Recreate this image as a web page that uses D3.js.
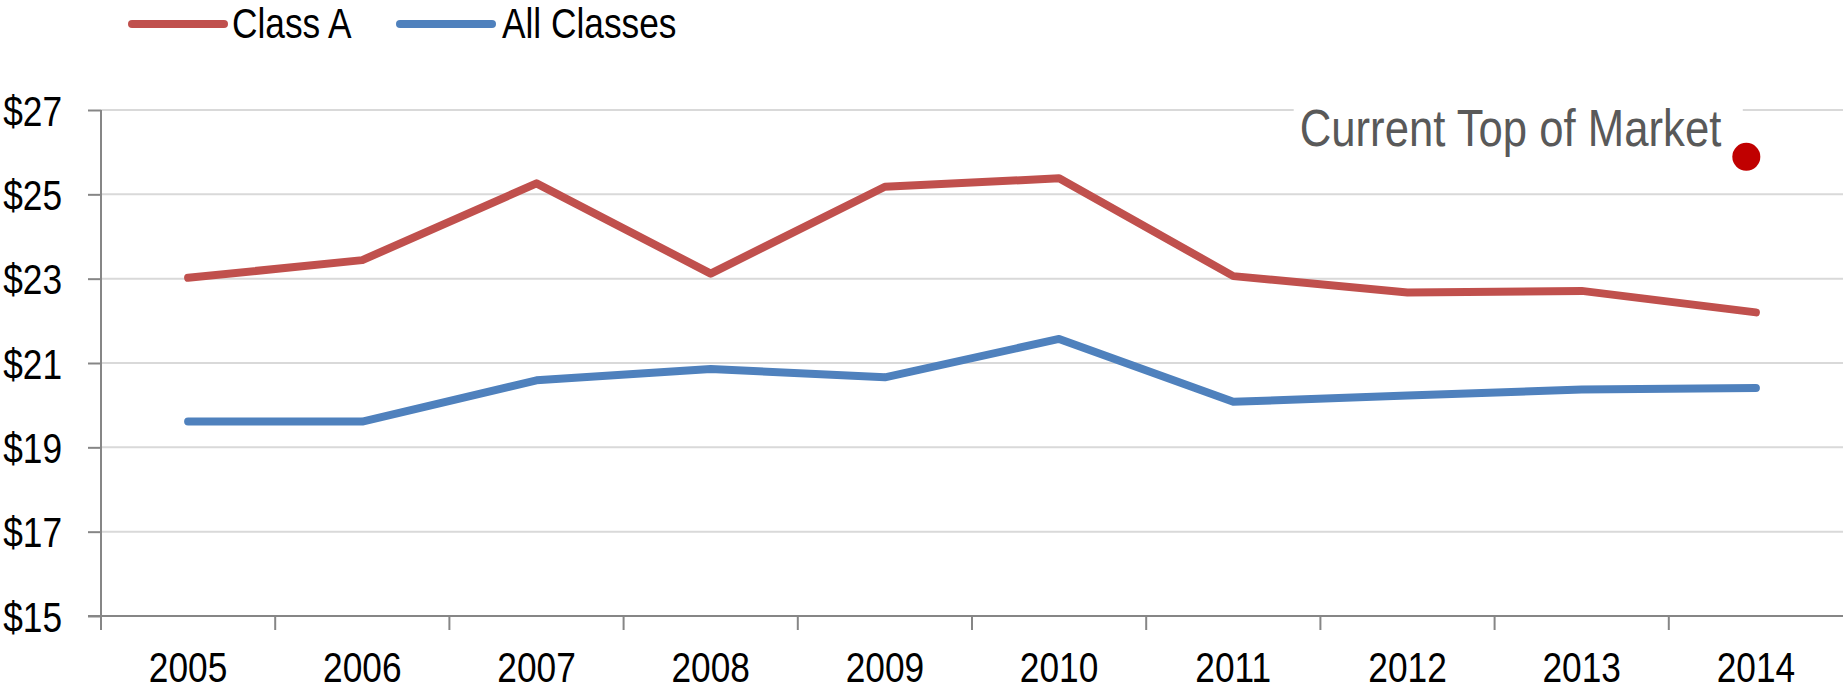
<!DOCTYPE html>
<html>
<head>
<meta charset="utf-8">
<script src="https://cdn.jsdelivr.net/npm/d3@7"></script>
<style>
  html, body { margin: 0; padding: 0; background: #fff; }
  svg { display: block; }
  text { font-family: "Liberation Sans", Arial, sans-serif; }
</style>
</head>
<body>
<svg id="chart" width="1843" height="693"></svg>
<script>
// ---- data ----
const years = ["2005", "2006", "2007", "2008", "2009", "2010", "2011", "2012", "2013", "2014"];
const classA = [23.02, 23.44, 25.26, 23.12, 25.18, 25.38, 23.06, 22.67, 22.71, 22.20];
const allClasses = [19.61, 19.61, 20.59, 20.86, 20.66, 21.57, 20.08, 20.23, 20.37, 20.41];
const yTicks = [15, 17, 19, 21, 23, 25, 27];
const seriesNames = ["Class A", "All Classes"];
const topOfMarketLabel = "Current Top of Market";
const topOfMarketYear = "2014";
const topOfMarketValue = 25.89;

(function () {
// ---- layout ----
const mLeft = 101, mRight = 1843, mTop = 110, mBottom = 616;
const colors = ["#C0504D", "#4F81BD"];
const NARROW = 0.84;

const svg = d3.select("#chart");
const x = d3.scaleBand().domain(years).range([mLeft, mRight]);
const y = d3.scaleLinear().domain([15, 27]).range([mBottom, mTop]);

function narrow(sel) {
  sel.each(function () {
    const len = this.getComputedTextLength();
    d3.select(this).attr("textLength", len * NARROW).attr("lengthAdjust", "spacingAndGlyphs");
  });
}

// gridlines
svg.append("g")
  .selectAll("line")
  .data(yTicks.filter(d => d !== 15))
  .join("line")
  .attr("x1", mLeft).attr("x2", mRight)
  .attr("y1", d => y(d)).attr("y2", d => y(d))
  .attr("stroke", "#d9d9d9").attr("stroke-width", 2);

// y axis
const yAxis = svg.append("g")
  .attr("transform", `translate(${mLeft},0)`)
  .call(d3.axisLeft(y).tickValues(yTicks).tickSize(13).tickPadding(26).tickFormat(d => "$" + d));
yAxis.select(".domain").remove();
yAxis.selectAll(".tick line").attr("stroke", "#868686").attr("stroke-width", 2);
yAxis.selectAll(".tick text")
  .attr("font-size", 42).attr("fill", "#000")
  .attr("font-family", "'Liberation Sans', Arial, sans-serif")
  .attr("dy", "0.36em")
  .call(narrow);

// axis lines
svg.append("line")
  .attr("x1", mLeft).attr("x2", mLeft).attr("y1", mTop).attr("y2", mBottom + 14)
  .attr("stroke", "#868686").attr("stroke-width", 2);
svg.append("line")
  .attr("x1", mLeft - 13).attr("x2", mRight).attr("y1", mBottom).attr("y2", mBottom)
  .attr("stroke", "#868686").attr("stroke-width", 2);

// x boundary ticks
svg.append("g")
  .selectAll("line")
  .data(years.slice(1))
  .join("line")
  .attr("x1", d => x(d)).attr("x2", d => x(d))
  .attr("y1", mBottom).attr("y2", mBottom + 14)
  .attr("stroke", "#868686").attr("stroke-width", 2);

// x labels
const xAxis = svg.append("g")
  .attr("transform", `translate(0,${mBottom})`)
  .call(d3.axisBottom(x).tickSize(0).tickPadding(0));
xAxis.select(".domain").remove();
xAxis.selectAll(".tick text")
  .attr("font-size", 42).attr("fill", "#000")
  .attr("font-family", "'Liberation Sans', Arial, sans-serif")
  .attr("y", 66).attr("dy", 0)
  .call(narrow);

// lines
const line = d3.line()
  .x((d, i) => x(years[i]) + x.bandwidth() / 2)
  .y(d => y(d));
[classA, allClasses].forEach((s, k) => {
  svg.append("path")
    .datum(s)
    .attr("d", line)
    .attr("fill", "none")
    .attr("stroke", colors[k])
    .attr("stroke-width", 8)
    .attr("stroke-linejoin", "round")
    .attr("stroke-linecap", "round");
});

// annotation: Current Top of Market
const dotX = x(topOfMarketYear) + x.bandwidth() * 0.445;
const dotY = y(topOfMarketValue);
const ann = svg.append("g");
const annRect = ann.append("rect").attr("fill", "#fff");
const annText = ann.append("text")
  .attr("x", dotX - 25).attr("y", dotY - 11)
  .attr("text-anchor", "end")
  .attr("font-size", 52)
  .attr("fill", "#595959")
  .text(topOfMarketLabel)
  .call(narrow);
const bb = annText.node().getBBox();
annRect.attr("x", bb.x - 6).attr("y", bb.y - 4).attr("width", bb.width + 27).attr("height", bb.height + 8);
svg.append("circle")
  .attr("cx", dotX).attr("cy", dotY).attr("r", 14)
  .attr("fill", "#C00000");

// legend
const legendItems = [
  { name: seriesNames[0], color: colors[0], x0: 132, x1: 224, tx: 232 },
  { name: seriesNames[1], color: colors[1], x0: 400, x1: 492, tx: 502 }
];
const lg = svg.append("g");
legendItems.forEach(it => {
  lg.append("line")
    .attr("x1", it.x0).attr("x2", it.x1).attr("y1", 24).attr("y2", 24)
    .attr("stroke", it.color).attr("stroke-width", 8).attr("stroke-linecap", "round");
  lg.append("text")
    .attr("x", it.tx).attr("y", 38)
    .attr("font-size", 42).attr("fill", "#000")
    .text(it.name)
    .call(narrow);
});
})();
</script>
</body>
</html>
